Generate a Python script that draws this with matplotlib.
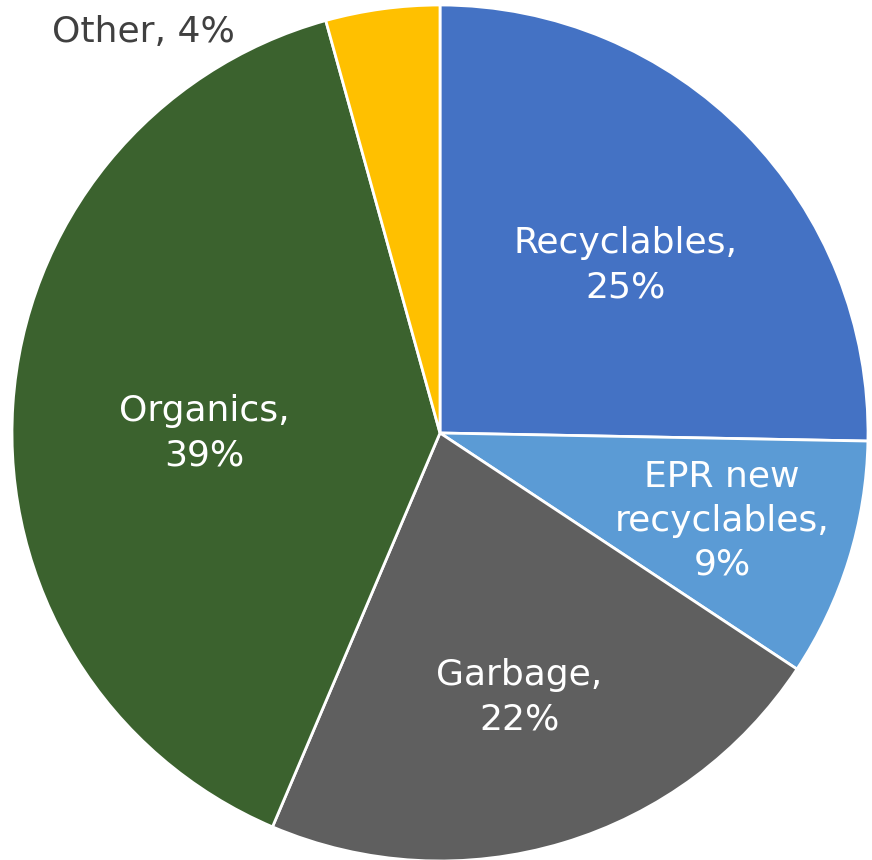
import numpy as np
import matplotlib
matplotlib.use("Agg")
import matplotlib.pyplot as plt

categories = ["Recyclables", "EPR new\nrecyclables", "Garbage", "Organics", "Other"]
values = [25.3, 9.0, 22.1, 39.3, 4.3]
pct_labels = ["25%", "9%", "22%", "39%", "4%"]
colors = ["#4472C4", "#5B9BD5", "#5F5F5F", "#3B622E", "#FFC000"]

W, H = 872, 860
fig = plt.figure(figsize=(W / 100, H / 100), dpi=100)
ax = fig.add_axes([0, 0, 1, 1])

cx, cy, R = 440, 860 - 433, 428
wedges, _ = ax.pie(values, colors=colors, startangle=90, counterclock=False,
                   center=(cx, cy), radius=R, frame=True,
                   wedgeprops=dict(edgecolor="white", linewidth=2))
ax.set_xlim(0, W)
ax.set_ylim(0, H)
ax.axis("off")

FS = 26
radial = [0.585, 0.69, 0.645, 0.55, None]
dang = [-2.3, 0.0, 0.0, 3.8, 0.0]
for w, cat, pct, r, da in zip(wedges, categories, pct_labels, radial, dang):
    mid = np.deg2rad((w.theta1 + w.theta2) / 2 + da)
    txt = f"{cat},\n{pct}"
    if r is None:
        ax.text(cx - 297, cy + 401, f"{cat}, {pct}", ha="center", va="center",
                fontsize=FS, color="#404040", family="DejaVu Sans")
    else:
        ax.text(cx + r * R * np.cos(mid), cy + r * R * np.sin(mid), txt,
                ha="center", va="center", fontsize=FS, color="white",
                linespacing=1.38, family="DejaVu Sans")

fig.savefig("out.png", dpi=100, facecolor="white")
